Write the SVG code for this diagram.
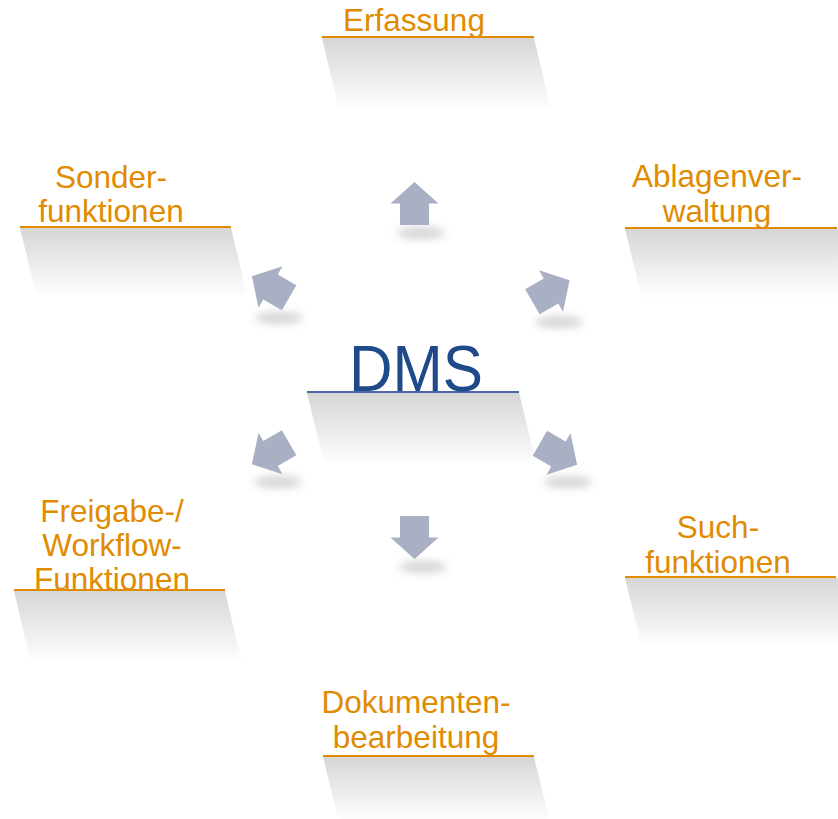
<svg xmlns="http://www.w3.org/2000/svg" width="838" height="819" viewBox="0 0 838 819">
  <defs>
    <linearGradient id="shade" x1="0" y1="0" x2="0" y2="1">
      <stop offset="0" stop-color="#d6d6d6"/>
      <stop offset="0.6" stop-color="#efefef"/>
      <stop offset="1" stop-color="#ffffff"/>
    </linearGradient>
    <filter id="blur" x="-50%" y="-150%" width="200%" height="400%">
      <feGaussianBlur stdDeviation="4.5"/>
    </filter>
    <path id="arrow" d="M0,-21.5 L24,0 L14.5,0 L14.5,21.5 L-14.5,21.5 L-14.5,0 L-24,0 Z"/>
  </defs>
  <style>
    .lbl { font-family: "Liberation Sans", Arial, sans-serif; font-size: 31.5px; fill: #e08b00; text-anchor: middle; }
    .dms { font-family: "Liberation Sans", Arial, sans-serif; font-size: 64px; fill: #1f4a8a; text-anchor: middle; }
    .rule { stroke: #e08b00; stroke-width: 2; }
    .rule-blue { stroke: #4a68a8; stroke-width: 1.8; }
    .shade { fill: url(#shade); }
    .arr { fill: #aab0c4; }
    .ashadow { fill: #a0a0a0; opacity: 0.45; filter: url(#blur); }
  </style>
  <rect width="838" height="819" fill="#ffffff"/>

  <g id="node-erfassung">
    <polygon class="shade" points="322,38 534,38 551,110 339,110"/>
    <line class="rule" x1="322" y1="37" x2="534" y2="37"/>
    <text class="lbl" x="414" y="31">Erfassung</text>
  </g>

  <g id="node-sonderfunktionen">
    <polygon class="shade" points="20,228 231,228 248,298 37,298"/>
    <line class="rule" x1="20" y1="227" x2="231" y2="227"/>
    <text class="lbl" x="111" y="188">Sonder-</text>
    <text class="lbl" x="111" y="222">funktionen</text>
  </g>

  <g id="node-ablagenverwaltung">
    <polygon class="shade" points="625,229 838,229 838,299 642,299"/>
    <line class="rule" x1="625" y1="228" x2="837" y2="228"/>
    <text class="lbl" x="717" y="187">Ablagenver-</text>
    <text class="lbl" x="717" y="222">waltung</text>
  </g>

  <g id="node-dms">
    <polygon class="shade" points="307,393 519,393 537,466 325,466"/>
    <line class="rule-blue" x1="307" y1="392" x2="519" y2="392"/>
    <text class="dms" x="416" y="391" textLength="134" lengthAdjust="spacingAndGlyphs">DMS</text>
  </g>

  <g id="node-freigabe">
    <polygon class="shade" points="14,591 225,591 242,663 31,663"/>
    <line class="rule" x1="14" y1="590" x2="225" y2="590"/>
    <text class="lbl" x="112" y="522">Freigabe-/</text>
    <text class="lbl" x="112" y="556">Workflow-</text>
    <text class="lbl" x="112" y="590">Funktionen</text>
  </g>

  <g id="node-suchfunktionen">
    <polygon class="shade" points="625,578 838,578 838,648 642,648"/>
    <line class="rule" x1="625" y1="577" x2="836" y2="577"/>
    <text class="lbl" x="718" y="538">Such-</text>
    <text class="lbl" x="718" y="573">funktionen</text>
  </g>

  <g id="node-dokumentenbearbeitung">
    <polygon class="shade" points="323,757 534,757 550,822 339,822"/>
    <line class="rule" x1="323" y1="756" x2="534" y2="756"/>
    <text class="lbl" x="416" y="713">Dokumenten-</text>
    <text class="lbl" x="416" y="748">bearbeitung</text>
  </g>

  <g id="connectors">
    <ellipse class="ashadow" cx="421" cy="233" rx="24" ry="6"/>
    <ellipse class="ashadow" cx="279" cy="318" rx="24" ry="6"/>
    <ellipse class="ashadow" cx="559" cy="322" rx="24" ry="6"/>
    <ellipse class="ashadow" cx="278" cy="482" rx="24" ry="6"/>
    <ellipse class="ashadow" cx="568" cy="482" rx="24" ry="6"/>
    <ellipse class="ashadow" cx="423" cy="567" rx="24" ry="6"/>
    <use class="arr" href="#arrow" transform="translate(414.5,203.5)"/>
    <use class="arr" href="#arrow" transform="translate(270.5,287) rotate(-60)"/>
    <use class="arr" href="#arrow" transform="translate(551,291) rotate(60)"/>
    <use class="arr" href="#arrow" transform="translate(270.5,453.5) rotate(-120)"/>
    <use class="arr" href="#arrow" transform="translate(558.5,454) rotate(120)"/>
    <use class="arr" href="#arrow" transform="translate(414.5,537.5) rotate(180)"/>
  </g>
</svg>
